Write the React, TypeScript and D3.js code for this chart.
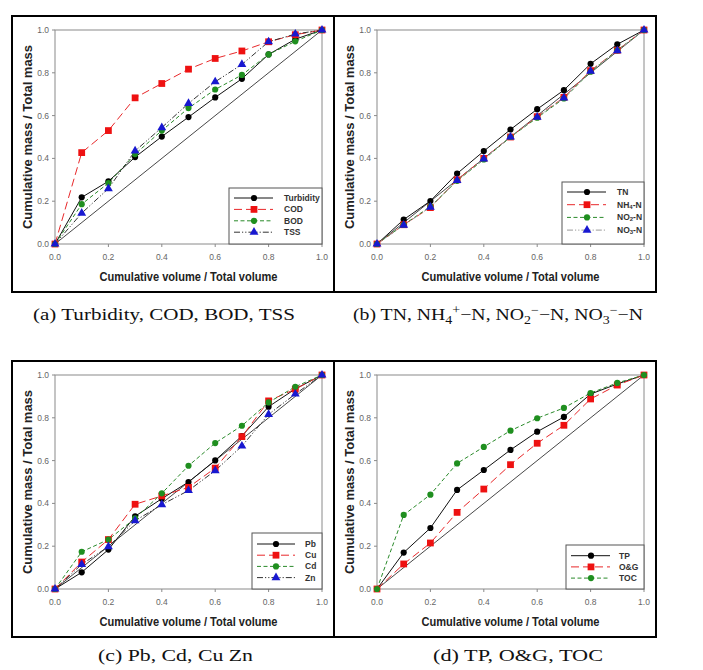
import React from 'react';
import * as d3 from 'd3';

// ---------- data ----------
const X_VALUES = [0, 0.1, 0.2, 0.3, 0.4, 0.5, 0.6, 0.7, 0.8, 0.9, 1.0];
const TICKS = [0, 0.2, 0.4, 0.6, 0.8, 1.0];
const TICK_LABELS = ['0.0', '0.2', '0.4', '0.6', '0.8', '1.0'];
const X_TITLE = 'Cumulative volume / Total volume';
const Y_TITLE = 'Cumulative mass / Total mass';

// (a)
const turbidity = [0, 0.218, 0.293, 0.406, 0.502, 0.593, 0.685, 0.772, 0.886, 0.957, 1];
const cod = [0, 0.427, 0.53, 0.683, 0.75, 0.817, 0.867, 0.902, 0.945, 0.978, 1];
const bod = [0, 0.186, 0.285, 0.42, 0.53, 0.635, 0.722, 0.79, 0.886, 0.947, 1];
const tss = [0, 0.144, 0.259, 0.435, 0.544, 0.657, 0.758, 0.839, 0.945, 0.981, 1];
// (b)
const tn = [0, 0.114, 0.201, 0.329, 0.434, 0.535, 0.63, 0.719, 0.842, 0.933, 1];
const nh4 = [0, 0.09, 0.17, 0.3, 0.4, 0.5, 0.595, 0.685, 0.81, 0.905, 1];
const no2 = [0, 0.09, 0.175, 0.295, 0.395, 0.5, 0.59, 0.68, 0.805, 0.905, 1];
const no3 = [0, 0.088, 0.172, 0.297, 0.398, 0.5, 0.593, 0.683, 0.808, 0.903, 1];
// (c)
const pb = [0, 0.078, 0.184, 0.34, 0.422, 0.5, 0.601, 0.715, 0.852, 0.935, 1];
const cu = [0, 0.126, 0.231, 0.396, 0.435, 0.475, 0.565, 0.712, 0.879, 0.934, 1];
const cd = [0, 0.174, 0.231, 0.33, 0.447, 0.576, 0.682, 0.763, 0.872, 0.945, 1];
const zn = [0, 0.115, 0.198, 0.319, 0.394, 0.46, 0.553, 0.668, 0.816, 0.911, 1];
// (d)
const tp = [0, 0.17, 0.285, 0.463, 0.556, 0.65, 0.735, 0.804, 0.911, 0.958, 1];
const og = [0, 0.117, 0.215, 0.358, 0.467, 0.581, 0.681, 0.765, 0.888, 0.953, 1];
const toc = [0, 0.346, 0.441, 0.587, 0.664, 0.74, 0.798, 0.846, 0.916, 0.963, 1];

const LABELS_A = ['Turbidity', 'COD', 'BOD', 'TSS'];
const LABELS_B = ['TN', 'NH_4-N', 'NO_2-N', 'NO_3-N'];
const LABELS_C = ['Pb', 'Cu', 'Cd', 'Zn'];
const LABELS_D = ['TP', 'O&G', 'TOC'];

// ---------- styles ----------
const STYLE = {
  solid: { stroke: '#111', dash: undefined as string | undefined },
  red: { stroke: '#e8282a', dash: '8,4' },
  green: { stroke: '#2a8a2a', dash: '4,2.5' },
  ddot: { stroke: '#333', dash: '6,2,1.2,2,1.2,2' },
  ddotGray: { stroke: '#9a9a9a', dash: '6,2,1.2,2,1.2,2' },
};
const MARK = {
  circleBlack: { type: d3.symbolCircle, fill: '#000', size: 30 },
  squareRed: { type: d3.symbolSquare, fill: '#ee1111', size: 46 },
  circleGreen: { type: d3.symbolCircle, fill: '#1f8f1f', size: 30 },
  triBlue: { type: d3.symbolTriangle, fill: '#1818d0', size: 34 },
};

type Series = { label: string; values: number[]; line: keyof typeof STYLE; mark: keyof typeof MARK };

const PANELS = [
  {
    bx: 12, by: 16,
    series: [
      { label: LABELS_A[0], values: turbidity, line: 'solid', mark: 'circleBlack' },
      { label: LABELS_A[1], values: cod, line: 'red', mark: 'squareRed' },
      { label: LABELS_A[2], values: bod, line: 'green', mark: 'circleGreen' },
      { label: LABELS_A[3], values: tss, line: 'ddot', mark: 'triBlue' },
    ] as Series[],
    legend: { w: 93, h: 56, row0: 46, step: 11.4, l0: 5, l1: 44, m: 25, t: 55 },
  },
  {
    bx: 334, by: 16,
    series: [
      { label: LABELS_B[0], values: tn, line: 'solid', mark: 'circleBlack' },
      { label: LABELS_B[1], values: nh4, line: 'red', mark: 'squareRed' },
      { label: LABELS_B[2], values: no2, line: 'green', mark: 'circleGreen' },
      { label: LABELS_B[3], values: no3, line: 'ddotGray', mark: 'triBlue' },
    ] as Series[],
    legend: { w: 82, h: 62, row0: 52, step: 12.7, l0: 5, l1: 44, m: 25, t: 55 },
  },
  {
    bx: 12, by: 361,
    series: [
      { label: LABELS_C[0], values: pb, line: 'solid', mark: 'circleBlack' },
      { label: LABELS_C[1], values: cu, line: 'red', mark: 'squareRed' },
      { label: LABELS_C[2], values: cd, line: 'green', mark: 'circleGreen' },
      { label: LABELS_C[3], values: zn, line: 'ddot', mark: 'triBlue' },
    ] as Series[],
    legend: { w: 70, h: 56, row0: 45, step: 11.2, l0: 5, l1: 43, m: 24, t: 53 },
  },
  {
    bx: 334, by: 361,
    series: [
      { label: LABELS_D[0], values: tp, line: 'solid', mark: 'circleBlack' },
      { label: LABELS_D[1], values: og, line: 'red', mark: 'squareRed' },
      { label: LABELS_D[2], values: toc, line: 'green', mark: 'circleGreen' },
    ] as Series[],
    legend: { w: 78, h: 44, row0: 33.3, step: 11.2, l0: 5, l1: 44, m: 25, t: 53 },
  },
];

const NARROW = '"Liberation Sans Narrow", "Arial Narrow", "Liberation Sans", Arial, sans-serif';
const SERIF = '"Liberation Serif", "Times New Roman", serif';

function SubLabel({ text, x, y }: { text: string; x: number; y: number }) {
  const parts = text.split('_');
  if (parts.length === 1) {
    return (
      <text x={x} y={y} fontSize={8.5} fontWeight="bold" fill="#333" fontFamily={NARROW} dominantBaseline="central">
        {text}
      </text>
    );
  }
  const sub = parts[1].slice(0, 1);
  const rest = parts[1].slice(1);
  return (
    <text x={x} y={y} fontSize={8.5} fontWeight="bold" fill="#333" fontFamily={NARROW} dominantBaseline="central">
      {parts[0]}
      <tspan fontSize={6} dy={2}>{sub}</tspan>
      <tspan dy={-2}>{rest}</tspan>
    </text>
  );
}

function Panel({ bx, by, series, legend }: (typeof PANELS)[number]) {
  const x = d3.scaleLinear().domain([0, 1]).range([bx + 43, bx + 310]);
  const y = d3.scaleLinear().domain([0, 1]).range([by + 228, by + 14]);
  const line = d3
    .line<number>()
    .x((_, i) => x(X_VALUES[i]))
    .y((d) => y(d));
  const diag = d3
    .line<number>()
    .x((d) => x(d))
    .y((d) => y(d));
  const [x0, x1] = x.range();
  const [y0, y1] = y.range();
  const lx = x1 - legend.w;
  const ly = y0 - legend.h;
  return (
    <g>
      <rect x={bx} y={by} width={322} height={276} fill="none" stroke="#000" strokeWidth={2} />
      <rect x={x0} y={y1} width={x1 - x0} height={y0 - y1} fill="none" stroke="#8a8a8a" strokeWidth={1} />
      {TICKS.map((t, i) => (
        <g key={'t' + i}>
          <line x1={x(t)} x2={x(t)} y1={y0} y2={y0 + 3} stroke="#8a8a8a" />
          <line x1={x0 - 3} x2={x0} y1={y(t)} y2={y(t)} stroke="#8a8a8a" />
          <text x={x(t)} y={y0 + 16} fontSize={8.5} fill="#666" fontFamily={NARROW} textAnchor="middle">
            {TICK_LABELS[i]}
          </text>
          <text x={x0 - 6} y={y(t)} fontSize={8.5} fill="#666" fontFamily={NARROW} textAnchor="end" dominantBaseline="central">
            {TICK_LABELS[i]}
          </text>
        </g>
      ))}
      <path d={diag([0, 1]) || ''} stroke="#333" strokeWidth={0.9} fill="none" />
      {series.map((s, k) => (
        <path
          key={'l' + k}
          d={line(s.values) || ''}
          fill="none"
          stroke={STYLE[s.line].stroke}
          strokeDasharray={STYLE[s.line].dash}
          strokeWidth={1}
        />
      ))}
      {series.map((s, k) =>
        s.values.map((v, i) => (
          <path
            key={'m' + k + '-' + i}
            d={d3.symbol().type(MARK[s.mark].type).size(MARK[s.mark].size)() || ''}
            transform={`translate(${x(X_VALUES[i])},${y(v)})`}
            fill={MARK[s.mark].fill}
          />
        ))
      )}
      <rect x={lx} y={ly} width={legend.w} height={legend.h} fill="#fff" stroke="#555" strokeWidth={1} />
      {series.map((s, k) => {
        const ry = y0 - legend.row0 + k * legend.step;
        return (
          <g key={'g' + k}>
            <line
              x1={lx + legend.l0}
              x2={lx + legend.l1}
              y1={ry}
              y2={ry}
              stroke={STYLE[s.line].stroke}
              strokeDasharray={STYLE[s.line].dash}
            />
            <path
              d={d3.symbol().type(MARK[s.mark].type).size(MARK[s.mark].size)() || ''}
              transform={`translate(${lx + legend.m},${ry})`}
              fill={MARK[s.mark].fill}
            />
            <SubLabel text={s.label} x={lx + legend.t} y={ry} />
          </g>
        );
      })}
      <text
        x={(x0 + x1) / 2}
        y={by + 265}
        fontSize={13.5}
        fontWeight="bold"
        fill="#222"
        fontFamily={NARROW}
        textAnchor="middle"
        textLength={178}
        lengthAdjust="spacingAndGlyphs"
      >
        {X_TITLE}
      </text>
      <text
        transform={`translate(${bx + 20},${(y0 + y1) / 2}) rotate(-90)`}
        fontSize={13.5}
        fontWeight="bold"
        fill="#222"
        fontFamily={NARROW}
        textAnchor="middle"
        textLength={184}
        lengthAdjust="spacingAndGlyphs"
      >
        {Y_TITLE}
      </text>
    </g>
  );
}

export default function App() {
  return (
    <svg width={703} height={670} style={{ display: 'block', position: 'absolute', left: 0, top: 0 }}>
      <rect x={0} y={0} width={703} height={670} fill="#fff" />
      {PANELS.map((p, i) => (
        <Panel key={i} {...p} />
      ))}
      <text x={33} y={320} fontSize={17} fontFamily={SERIF} fill="#111" textLength={262} lengthAdjust="spacingAndGlyphs">
        (a)  Turbidity,  COD,  BOD,  TSS
      </text>
      <text x={353} y={320} fontSize={17} fontFamily={SERIF} fill="#111" textLength={290} lengthAdjust="spacingAndGlyphs">
        (b)  TN,  NH
        <tspan fontSize={12} dy={4}>4</tspan>
        <tspan fontSize={12} dy={-10}>+</tspan>
        <tspan dy={6}>−N,  NO</tspan>
        <tspan fontSize={12} dy={4}>2</tspan>
        <tspan fontSize={12} dy={-10}>−</tspan>
        <tspan dy={6}>−N,  NO</tspan>
        <tspan fontSize={12} dy={4}>3</tspan>
        <tspan fontSize={12} dy={-10}>−</tspan>
        <tspan dy={6}>−N</tspan>
      </text>
      <text x={98} y={661} fontSize={17} fontFamily={SERIF} fill="#111" textLength={155} lengthAdjust="spacingAndGlyphs">
        (c) Pb, Cd, Cu Zn
      </text>
      <text x={433} y={661} fontSize={17} fontFamily={SERIF} fill="#111" textLength={170} lengthAdjust="spacingAndGlyphs">
        (d) TP, O&amp;G, TOC
      </text>
    </svg>
  );
}
